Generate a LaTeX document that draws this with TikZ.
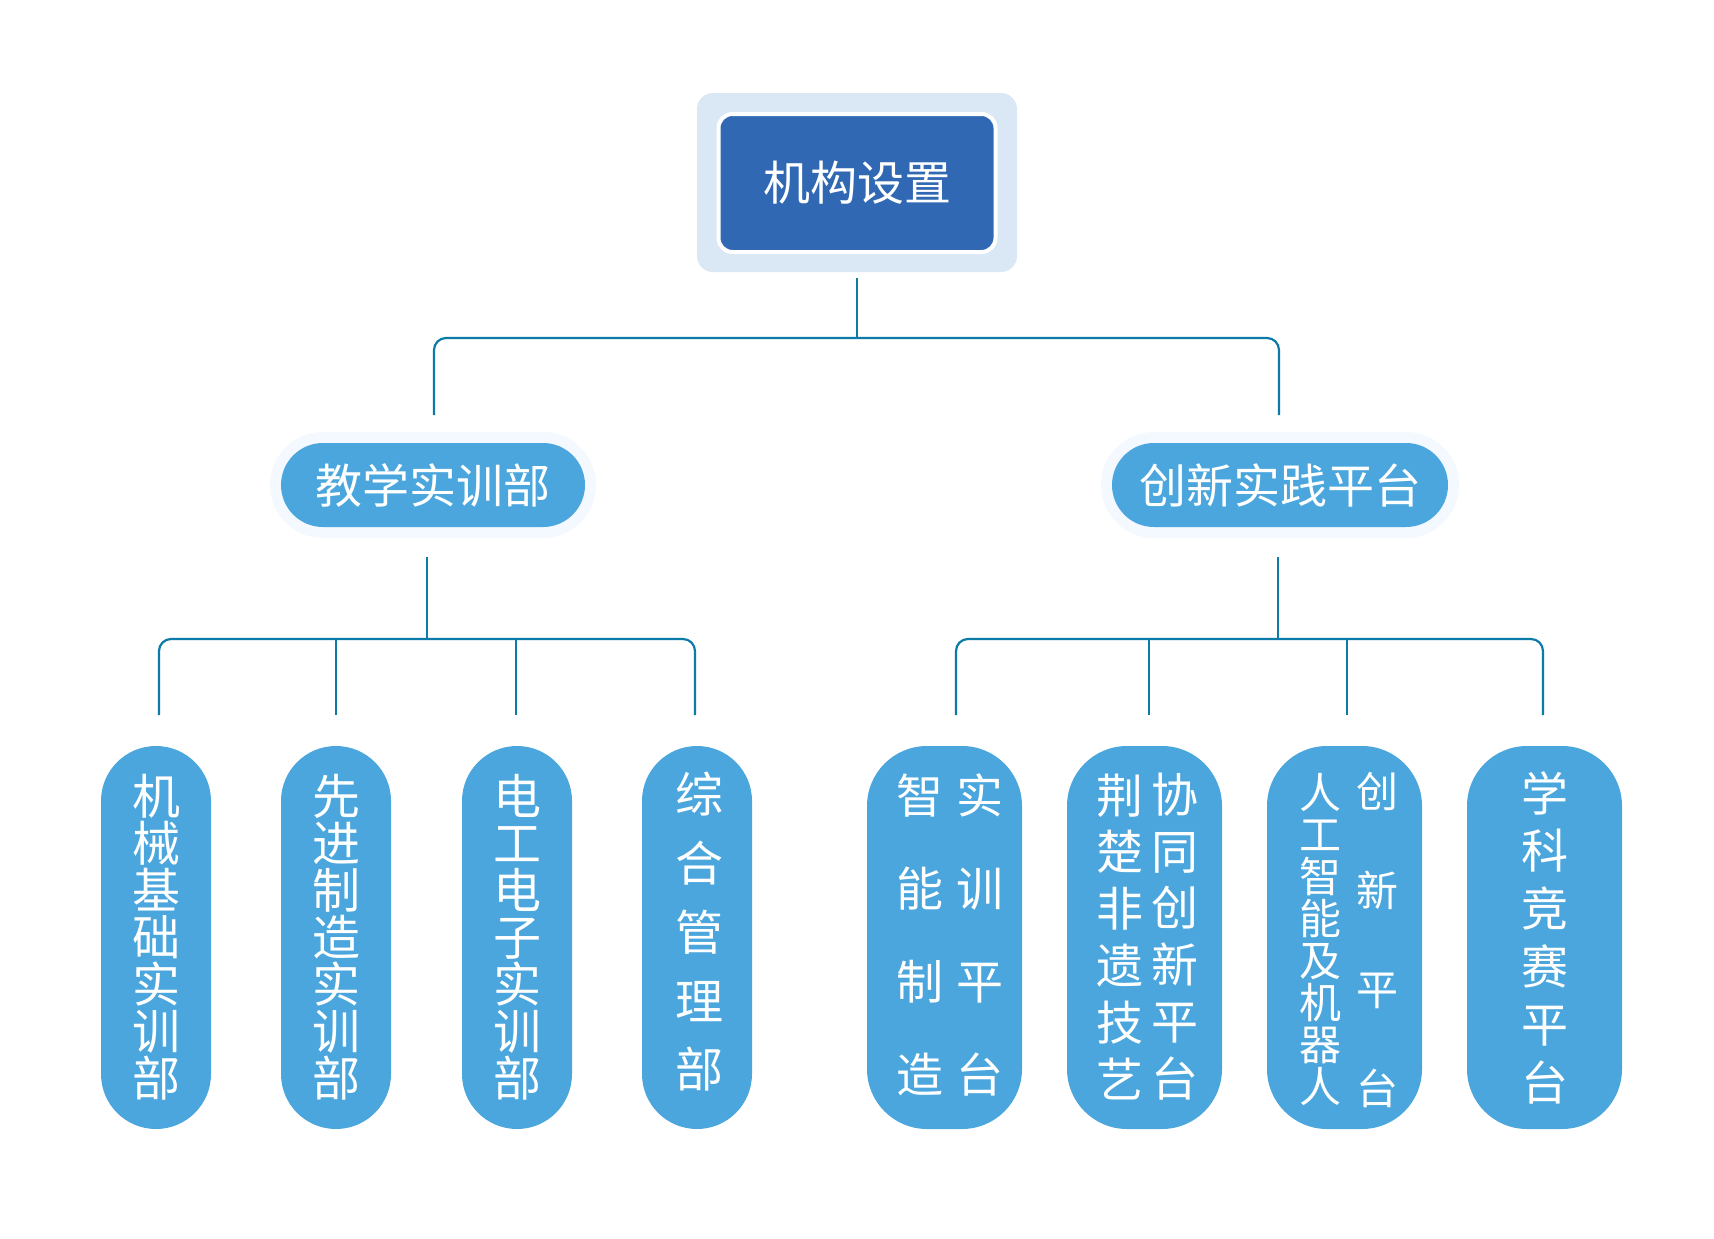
\documentclass[tikz,border=0pt]{standalone}
\usepackage{fontspec}
\setmainfont{Noto Sans CJK SC}
\definecolor{linec}{HTML}{0D7BA8}
\definecolor{boxblue}{HTML}{4AA6DD}
\definecolor{topdark}{HTML}{3068B3}
\definecolor{topbg}{HTML}{DAE8F6}
\definecolor{halo}{HTML}{F3F9FE}
\newcommand\myfs[2]{\fontsize{#1pt}{#2pt}\selectfont\lineskiplimit=-100pt\relax\lineskip=0pt\relax}
\begin{document}
\begin{tikzpicture}[x=1pt,y=-1pt,
  conn/.style={draw=linec, line width=2.2pt},
  leaf/.style={fill=boxblue, text=white, inner sep=0pt, align=center, minimum height=383pt},
  narrow/.style={leaf, minimum width=110pt, rounded corners=55pt},
  wide/.style={leaf, minimum width=155pt, rounded corners=60pt},
  col/.style={text=white, inner sep=0pt, align=center},
  mid/.style={fill=boxblue, text=white, inner sep=0pt, minimum height=84pt, rounded corners=42pt,
    preaction={draw=halo, line width=22pt}, font=\myfs{47}{47}}
]
\fill[white] (0,0) rectangle (1714,1239);
\useasboundingbox (0,0) rectangle (1714,1239);

% top
\node[fill=topbg, rounded corners=16pt, minimum width=320pt, minimum height=179pt, inner sep=0pt] (topbg) at (857,182.5) {};
\node[fill=topdark, draw=white, line width=4pt, rounded corners=14pt, minimum width=277pt, minimum height=138pt, inner sep=0pt, text=white, font=\myfs{47}{47}] (top) at (857,183) {机构设置};

% middle
\node[mid, minimum width=304pt] (m1) at (433,485) {教学实训部};
\node[mid, minimum width=336pt] (m2) at (1280,485) {创新实践平台};

% leaves left
\node[narrow, font=\myfs{48}{47}] (b1) at (156,937.5) {机\\械\\基\\础\\实\\训\\部};
\node[narrow, font=\myfs{48}{47}] (b2) at (336,937.5) {先\\进\\制\\造\\实\\训\\部};
\node[narrow, font=\myfs{48}{47}] (b3) at (517,937.5) {电\\工\\电\\子\\实\\训\\部};
\node[narrow] (b4) at (697,937.5) {};
\node[col, font=\myfs{48}{68.75}] (t4) at (699,932) {综\\合\\管\\理\\部};

% leaves right
\node[wide] (b5) at (944.5,937.5) {};
\node[wide] (b6) at (1144.5,937.5) {};
\node[wide] (b7) at (1344.5,937.5) {};
\node[wide, font=\myfs{47}{57.8}] (b8) at (1544.5,937.5) {学\\科\\竞\\赛\\平\\台};

\node[col, font=\myfs{47}{93}] (t5a) at (919.5,935) {智\\能\\制\\造};
\node[col, font=\myfs{47}{93}] (t5b) at (979.5,935) {实\\训\\平\\台};
\node[col, font=\myfs{47}{56.8}] (t6a) at (1119.5,936.5) {荆\\楚\\非\\遗\\技\\艺};
\node[col, font=\myfs{47}{56.8}] (t6b) at (1174.5,936.5) {协\\同\\创\\新\\平\\台};
\node[col, font=\myfs{42}{42}] (t7a) at (1320,940) {人\\工\\智\\能\\及\\机\\器\\人};
\node[col, font=\myfs{42}{98.7}] (t7b) at (1377,940) {创\\新\\平\\台};

% connectors top level
\coordinate (p0) at (857,278);
\coordinate (p0b) at (857,338);
\coordinate (pl) at (434,415);
\coordinate (pr) at (1279,415);
\draw[conn] (p0) -- (p0b);
\draw[conn, rounded corners=12pt] (pl) |- (p0b) -| (pr);

% left group
\coordinate (q0) at (427,557);
\coordinate (q0b) at (427,639);
\coordinate (l1) at (159,715);
\coordinate (l2) at (336,715);
\coordinate (l3) at (516,715);
\coordinate (l4) at (695,715);
\draw[conn] (q0) -- (q0b);
\draw[conn, rounded corners=12pt] (l1) |- (q0b) -| (l4);
\draw[conn] (l2) -- (l2 |- q0b);
\draw[conn] (l3) -- (l3 |- q0b);

% right group
\coordinate (r0) at (1278,557);
\coordinate (r0b) at (1278,639);
\coordinate (n1) at (956,715);
\coordinate (n2) at (1149,715);
\coordinate (n3) at (1347,715);
\coordinate (n4) at (1543,715);
\draw[conn] (r0) -- (r0b);
\draw[conn, rounded corners=12pt] (n1) |- (r0b) -| (n4);
\draw[conn] (n2) -- (n2 |- r0b);
\draw[conn] (n3) -- (n3 |- r0b);
\end{tikzpicture}
\end{document}
